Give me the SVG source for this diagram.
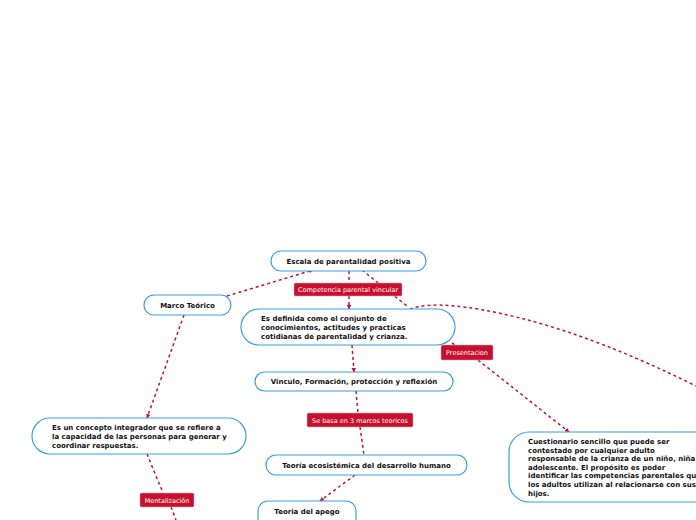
<svg xmlns="http://www.w3.org/2000/svg" width="696" height="520" viewBox="0 0 696 520">
<style>
.node{fill:#fff;stroke:#3a9ee4;stroke-width:1.2}
.t{font-family:"DejaVu Sans",Verdana,sans-serif;font-weight:bold;font-size:7px;fill:#111}
.c{text-anchor:middle}
.lab{fill:#c8102e;stroke:#e8aab5;stroke-width:0.5}
.lt{font-family:"DejaVu Sans",Verdana,sans-serif;font-size:6.5px;fill:#fff;text-anchor:middle}
.e{fill:none;stroke:#c8102e;stroke-width:1.5;stroke-dasharray:3 3}
</style>
<defs>
<marker id="ah" viewBox="0 0 10 10" refX="9" refY="5" markerWidth="4.5" markerHeight="4.5" orient="auto" markerUnits="userSpaceOnUse"><path d="M0,0 L10,5 L0,10 Z" fill="#c8102e"/></marker>
</defs>
<rect width="696" height="520" fill="#fff"/>
<g id="connectors">
<path class="e" d="M227,296 L313,270" marker-end="url(#ah)"/>
<path class="e" d="M349,271 L349,283"/>
<path class="e" d="M349,296 L349,309" marker-end="url(#ah)"/>
<path class="e" d="M362,270 L407,306"/>
<path class="e" d="M452,343 L462,349"/>
<path class="e" d="M478,360 L569,432" marker-end="url(#ah)"/>
<path class="e" d="M410,309 Q440,298 520,318 T700,388"/>
<path class="e" d="M352,345 L354,372" marker-end="url(#ah)"/>
<path class="e" d="M356,391 L358,413"/>
<path class="e" d="M360,427 L364,455"/>
<path class="e" d="M355,475 L320,501" marker-end="url(#ah)"/>
<path class="e" d="M184,315 L147,418" marker-end="url(#ah)"/>
<path class="e" d="M147,454 L163,493"/>
<path class="e" d="M171,507 L176,520"/>
</g>
<g id="escala">
<rect class="node" x="271" y="251" width="155" height="20" rx="10"/>
<text class="t c" x="348.5" y="263.5">Escala de parentalidad positiva</text>
</g>
<g id="marco">
<rect class="node" x="144" y="295" width="87" height="20" rx="10"/>
<text class="t c" x="187.5" y="307.5">Marco Teórico</text>
</g>
<g id="lab-competencia">
<rect class="lab" x="294" y="283" width="108" height="13" rx="1.5"/>
<text class="lt" x="348" y="292">Competencia parental vincular</text>
</g>
<g id="definida">
<rect class="node" x="241" y="309" width="214" height="36" rx="18"/>
<text class="t" x="261" y="321">Es definida como el conjunto de</text>
<text class="t" x="261" y="330">conocimientos, actitudes y practicas</text>
<text class="t" x="261" y="339">cotidianas de parentalidad y crianza.</text>
</g>
<g id="lab-presentacion">
<rect class="lab" x="441" y="345" width="52" height="15" rx="1.5"/>
<text class="lt" x="467" y="355">Presentacion</text>
</g>
<g id="vinculo">
<rect class="node" x="255" y="372" width="198" height="19" rx="9.5"/>
<text class="t c" x="354" y="384">Vinculo, Formación, protección y reflexión</text>
</g>
<g id="lab-sebasa">
<rect class="lab" x="307" y="413" width="106" height="14" rx="1.5"/>
<text class="lt" x="360" y="422.5">Se basa en 3 marcos teoricos</text>
</g>
<g id="ecosistemica">
<rect class="node" x="266" y="455" width="201" height="20" rx="10"/>
<text class="t c" x="366.5" y="467.5">Teoría ecosistémica del desarrollo humano</text>
</g>
<g id="apego">
<rect class="node" x="258" y="501" width="98" height="30" rx="10"/>
<text class="t c" x="307" y="513.5">Teoria del apego</text>
</g>
<g id="concepto">
<rect class="node" x="32" y="418" width="214" height="36" rx="18"/>
<text class="t" x="52" y="430">Es un concepto integrador que se refiere a</text>
<text class="t" x="52" y="439">la capacidad de las personas para generar y</text>
<text class="t" x="52" y="448">coordinar respuestas.</text>
</g>
<g id="lab-mentalizacion">
<rect class="lab" x="140" y="493" width="54" height="14" rx="1.5"/>
<text class="lt" x="167" y="502.5">Mentalización</text>
</g>
<g id="cuestionario">
<rect class="node" x="509" y="432" width="220" height="70" rx="20"/>
<text class="t" x="528" y="444">Cuestionario sencillo que puede ser</text>
<text class="t" x="528" y="452.6">contestado por cualquier adulto</text>
<text class="t" x="528" y="461.2">responsable de la crianza de un niño, niña o</text>
<text class="t" x="528" y="469.8">adolescente. El propósito es poder</text>
<text class="t" x="528" y="478.4">identificar las competencias parentales que</text>
<text class="t" x="528" y="487">los adultos utilizan al relacionarse con sus</text>
<text class="t" x="528" y="495.6">hijos.</text>
</g>
</svg>
